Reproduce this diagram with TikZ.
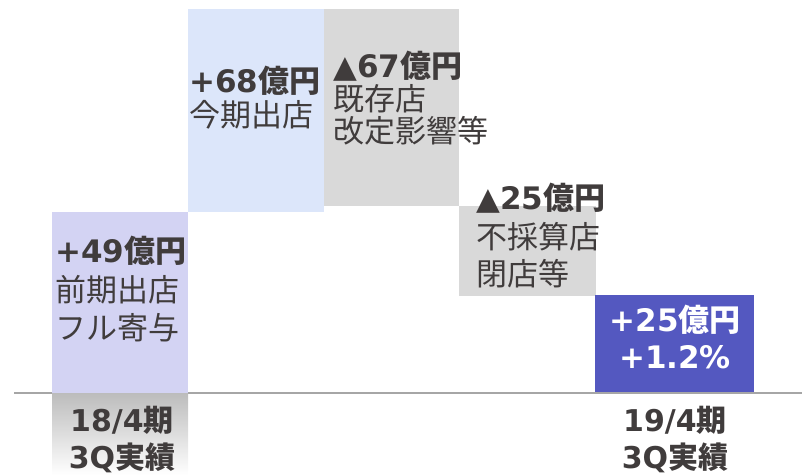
\documentclass[tikz,border=0pt]{standalone}
\usepackage{fontspec}
\setmainfont{DejaVu Sans}
\newfontfamily\jp{Noto Sans CJK JP}
\newcommand\J[1]{{\jp #1}}
\definecolor{lav}{RGB}{211,211,243}
\definecolor{lblue}{RGB}{220,230,250}
\definecolor{gbox}{RGB}{217,217,217}
\definecolor{dblue}{RGB}{84,88,192}
\definecolor{txt}{RGB}{64,60,60}
\definecolor{axisc}{RGB}{166,166,166}
\definecolor{shadetop}{RGB}{188,188,188}
\tikzset{
  lbl/.style={anchor=base west,inner sep=0pt,text=txt,font=\fontsize{31}{31}\selectfont},
  lblb/.style={lbl,font=\fontsize{31}{31}\selectfont\bfseries},
  clbl/.style={anchor=base,inner sep=0pt,text=txt,font=\fontsize{30}{30}\selectfont\bfseries},
  wlbl/.style={anchor=base,inner sep=0pt,text=white,font=\fontsize{31}{31}\selectfont\bfseries},
}
\begin{document}
\begin{tikzpicture}[x=1pt,y=-1pt]
\useasboundingbox (0,0) rectangle (802,475);
% axis
\draw[axisc,line width=2pt] (14,393) coordinate (axL) -- (802,393) coordinate (axR);
% bars
\fill[lav] (52,212) rectangle (188,393);
\shade[top color=shadetop,bottom color=white] (52,393) rectangle (188,475);
\fill[lblue] (188,9) rectangle (324,212);
\fill[gbox] (324,9) rectangle (459,206);
\fill[gbox] (459,206) rectangle (596,296);
\fill[dblue] (595,295) rectangle (754,392);
% texts box1
\node[lblb] (a1) at (55,262.5) {+49\J{\bfseries 億円}};
\node[lbl] (a2) at (55,301.5) {\J{前期出店}};
\node[lbl] (a3) at (55,339.5) {\J{フル寄与}};
% box2
\node[lblb] (b1) at (189,92.5) {+68\J{\bfseries 億円}};
\node[lbl] (b2) at (189,126.5) {\J{今期出店}};
% box3
\node[lblb] (c1) at (333,77.5) {▲67\J{\bfseries 億円}};
\node[lbl] (c2) at (333,110) {\J{既存店}};
\node[lbl] (c3) at (333,142.5) {\J{改定影響等}};
% box4
\node[lblb] (d1) at (476,209.5) {▲25\J{\bfseries 億円}};
\node[lbl] (d2) at (476,248.5) {\J{不採算店}};
\node[lbl] (d3) at (476,285.5) {\J{閉店等}};
% box5
\node[wlbl] (e1) at (675,331.5) {+25\J{\bfseries 億円}};
\node[wlbl] (e2) at (675,368.5) {+1.2\%};
% bottom labels
\node[clbl] (f1) at (122,431.5) {18/4\J{\bfseries 期}};
\node[clbl,text depth=3pt] (f2) at (122,468.5) {3Q\J{\bfseries 実績}};
\node[clbl] (g1) at (675,431.5) {19/4\J{\bfseries 期}};
\node[clbl,text depth=3pt] (g2) at (675,468.5) {3Q\J{\bfseries 実績}};
\end{tikzpicture}
\end{document}
